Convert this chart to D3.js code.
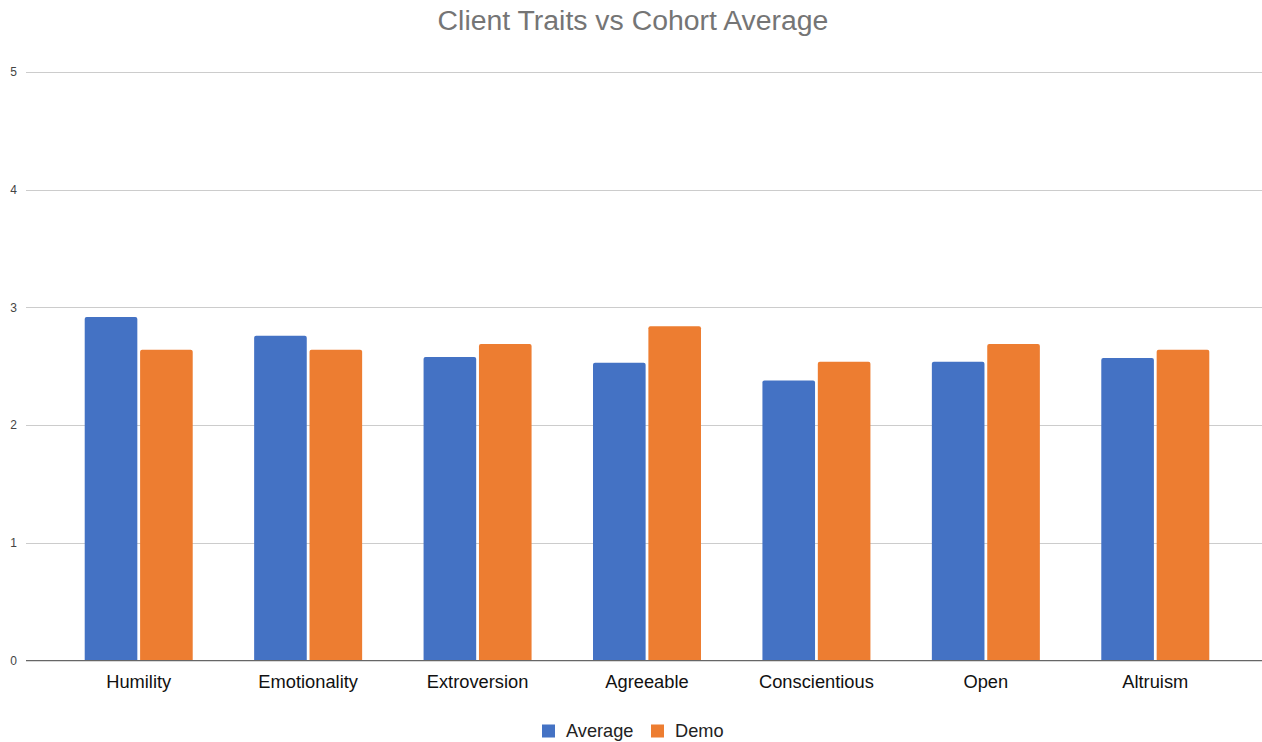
<!DOCTYPE html>
<html>
<head>
<meta charset="utf-8">
<script src="https://cdn.jsdelivr.net/npm/d3@7"></script>
<style>
  body { margin: 0; background: #fff; }
  svg { display: block; font-family: "Liberation Sans", Arial, sans-serif; }
</style>
</head>
<body>
<div id="chart"></div>
<script>
// chart data
var categories = ["Humility", "Emotionality", "Extroversion", "Agreeable", "Conscientious", "Open", "Altruism"];
var seriesNames = ["Average", "Demo"];
var averageValues = [2.92, 2.76, 2.58, 2.53, 2.38, 2.54, 2.57];
var demoValues = [2.64, 2.64, 2.69, 2.84, 2.54, 2.69, 2.64];
var yTicks = [0, 1, 2, 3, 4, 5];
var colors = ["#4472C4", "#ED7D31"];

var width = 1262, height = 742;
var gridLeft = 26, gridRight = 1262;
var plotTop = 72, plotBottom = 660.7;

var svg = d3.select("#chart").append("svg")
    .attr("width", width)
    .attr("height", height);

var y = d3.scaleLinear()
    .domain([0, 5])
    .range([plotBottom, plotTop]);

var x = d3.scaleBand()
    .domain(categories)
    .range([54, 1240])
    .padding(0);

// group of bars inside each category
var groupWidth = 108;
var xInner = d3.scaleBand()
    .domain(seriesNames)
    .range([0, groupWidth])
    .paddingInner(0.05);

svg.append("text")
    .attr("x", width / 2 + 2)
    .attr("y", 30)
    .attr("text-anchor", "middle")
    .attr("fill", "#757575")
    .style("font-size", "28.4px")
    .text("Client Traits vs Cohort Average");

// gridlines + tick labels
var grid = svg.append("g").attr("class", "grid");
grid.selectAll("line")
    .data(yTicks.filter(function (d) { return d > 0; }))
    .enter()
    .append("line")
    .attr("x1", gridLeft)
    .attr("x2", gridRight)
    .attr("y1", function (d) { return Math.round(y(d)) + 0.5; })
    .attr("y2", function (d) { return Math.round(y(d)) + 0.5; })
    .attr("stroke", "#cccccc")
    .attr("stroke-width", 1);

grid.selectAll("text")
    .data(yTicks)
    .enter()
    .append("text")
    .attr("x", 17)
    .attr("y", function (d) { return y(d); })
    .attr("dy", "0.35em")
    .attr("text-anchor", "end")
    .attr("fill", "#444")
    .style("font-size", "12px")
    .text(function (d) { return d; });

// bars
var rows = categories.map(function (c, i) {
    return { cat: c, vals: [averageValues[i], demoValues[i]] };
});

var groups = svg.append("g")
    .selectAll("g")
    .data(rows)
    .enter()
    .append("g")
    .attr("transform", function (d) {
        return "translate(" + (x(d.cat) + (x.bandwidth() - groupWidth) / 2) + ",0)";
    });

groups.selectAll("path")
    .data(function (d) {
        return d.vals.map(function (v, i) { return { name: seriesNames[i], value: v, i: i }; });
    })
    .enter()
    .append("path")
    .attr("d", function (d) {
        var x0 = xInner(d.name), w = xInner.bandwidth();
        var y0 = y(d.value), y1 = y(0), r = 2;
        return "M" + x0 + "," + y1 +
            "V" + (y0 + r) +
            "Q" + x0 + "," + y0 + " " + (x0 + r) + "," + y0 +
            "H" + (x0 + w - r) +
            "Q" + (x0 + w) + "," + y0 + " " + (x0 + w) + "," + (y0 + r) +
            "V" + y1 + "Z";
    })
    .attr("fill", function (d) { return colors[d.i]; });

// baseline
svg.append("line")
    .attr("x1", gridLeft)
    .attr("x2", gridRight)
    .attr("y1", plotBottom)
    .attr("y2", plotBottom)
    .attr("stroke", "#666")
    .attr("stroke-width", 1.3);

// category labels
svg.append("g")
    .selectAll("text")
    .data(categories)
    .enter()
    .append("text")
    .attr("x", function (d) { return x(d) + x.bandwidth() / 2; })
    .attr("y", 688)
    .attr("text-anchor", "middle")
    .attr("fill", "#111")
    .style("font-size", "18.3px")
    .text(function (d) { return d; });

// legend
var legend = svg.append("g").attr("transform", "translate(542,731)");
var legendX = [0, 109];
var item = legend.selectAll("g")
    .data(seriesNames)
    .enter()
    .append("g")
    .attr("transform", function (d, i) { return "translate(" + legendX[i] + ",0)"; });

item.append("rect")
    .attr("x", 0)
    .attr("y", -6.5)
    .attr("width", 13)
    .attr("height", 13)
    .attr("fill", function (d, i) { return colors[i]; });

item.append("text")
    .attr("x", 24)
    .attr("y", 0)
    .attr("dy", "0.35em")
    .attr("fill", "#222")
    .style("font-size", "18.2px")
    .text(function (d) { return d; });
</script>
</body>
</html>
